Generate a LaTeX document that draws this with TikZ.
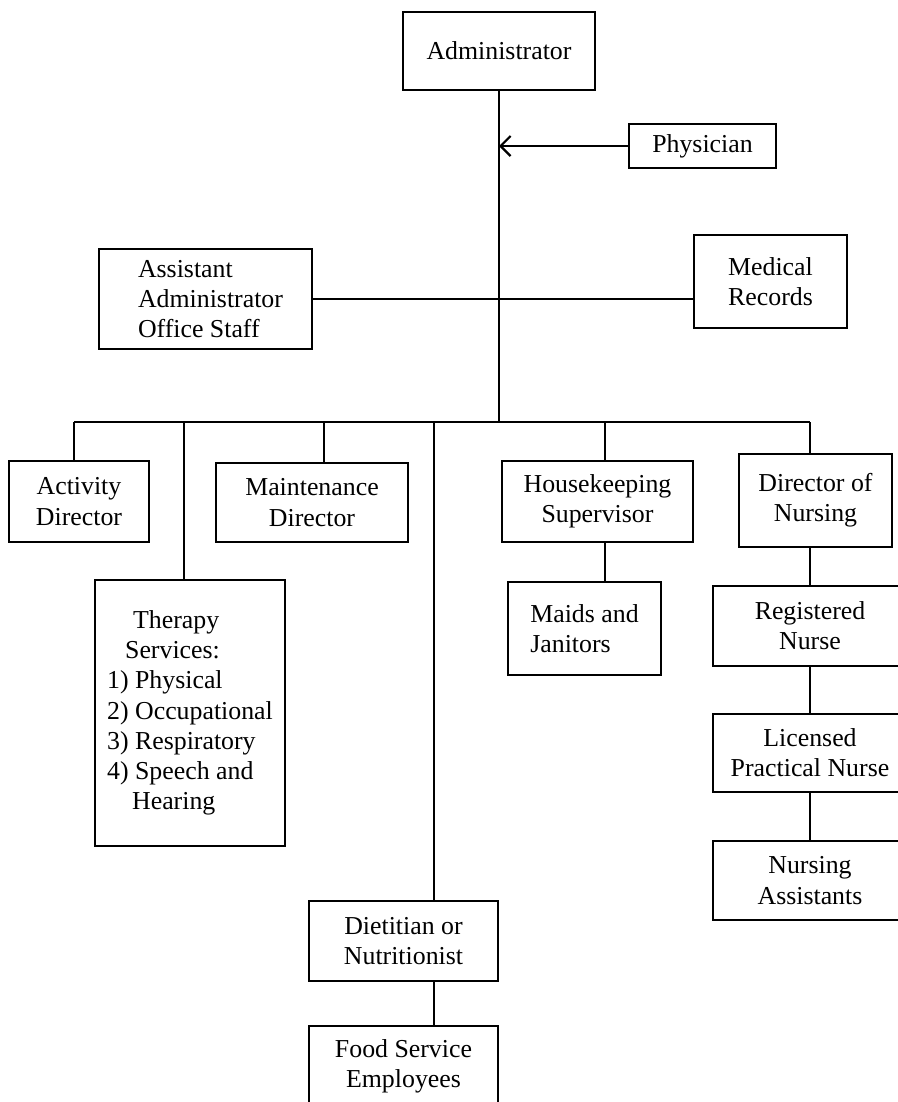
\documentclass[tikz,border=0pt]{standalone}
\usepackage{fontspec}
\setmainfont{Liberation Serif}
\usetikzlibrary{arrows.meta}

\begin{document}
\begin{tikzpicture}[
    unit/.style={draw, line width=1.5pt, align=center, inner sep=2pt},
    link/.style={line width=1.3pt},
    font=\fontsize{14.7}{17.2}\selectfont]
        \useasboundingbox (0,0) rectangle (17.96,-22.04);

        % Top of the chart
        \node[unit, minimum width=3.84cm, minimum height=1.56cm] (admin) at (9.98,-1.02) {Administrator};
        \node[unit, minimum width=2.94cm, minimum height=0.88cm] (phys) at (14.05,-2.92) {Physician};
        \node[unit, align=left, minimum width=4.26cm, minimum height=2.0cm] (asst) at (4.11,-5.98) {\hspace*{0.2cm}Assistant\\\hspace*{0.2cm}Administrator\\\hspace*{0.2cm}Office Staff};
        \node[unit, minimum width=3.06cm, minimum height=1.86cm] (med) at (15.41,-5.63) {Medical\\Records};

        % Drop points on the bus
        \coordinate (dAct) at (1.48,-8.44);
        \coordinate (dTher) at (3.68,-8.44);
        \coordinate (dMaint) at (6.48,-8.44);
        \coordinate (dDiet) at (8.68,-8.44);
        \coordinate (dHouse) at (12.1,-8.44);
        \coordinate (dNurse) at (16.2,-8.44);

        % Departments
        \node[unit, minimum width=2.8cm, minimum height=1.62cm] (act) at (1.58,-10.03) {Activity\\Director};
        \node[unit, align=left, minimum width=3.8cm, minimum height=5.32cm] (ther) at (3.8,-14.26) {\hspace*{0.52cm}Therapy\\\hspace*{0.36cm}Services:\\1) Physical\\2) Occupational\\3) Respiratory\\4) Speech and\\\hspace*{0.5cm}Hearing};
        \node[unit, minimum width=3.84cm, minimum height=1.58cm] (maint) at (6.24,-10.05) {Maintenance\\Director};
        \node[unit, minimum width=3.78cm, minimum height=1.6cm] (diet) at (8.07,-18.82) {Dietitian or\\Nutritionist};
        \node[unit, minimum width=3.78cm, minimum height=1.6cm] (food) at (8.07,-21.32) {Food Service\\Employees};
        \node[unit, minimum width=3.82cm, minimum height=1.62cm] (house) at (11.95,-10.03) {Housekeeping\\Supervisor};
        \node[unit, align=left, minimum width=3.06cm, minimum height=1.86cm] (maids) at (11.69,-12.57) {Maids and\\Janitors};

        % Nursing
        \node[unit, minimum width=3.06cm, minimum height=1.86cm] (dnurse) at (16.31,-10.01) {Director of\\Nursing};
        \node[unit, minimum width=3.88cm, minimum height=1.6cm] (rn) at (16.2,-12.52) {Registered\\Nurse};
        \node[unit, minimum width=3.88cm, minimum height=1.56cm] (lpn) at (16.2,-15.06) {Licensed\\Practical Nurse};
        \node[unit, minimum width=3.88cm, minimum height=1.58cm] (na) at (16.2,-17.61) {Nursing\\Assistants};

        % Lines
        \draw[link] (admin.south) -- (admin.south |- dAct);
        \draw[link, -{Straight Barb[length=2mm, width=4mm]}] (phys.west) -- (phys.west -| admin.south);
        \draw[link] (asst.east) -- (asst.east -| med.west);
        \draw[link] (dAct) -- (dNurse);
        \draw[link] (dAct) -- (dAct |- act.north);
        \draw[link] (dTher) -- (dTher |- ther.north);
        \draw[link] (dMaint) -- (dMaint |- maint.north);
        \draw[link] (dDiet) -- (dDiet |- diet.north);
        \draw[link] (dDiet |- diet.south) -- (dDiet |- food.north);
        \draw[link] (dHouse) -- (dHouse |- house.north);
        \draw[link] (dHouse |- house.south) -- (dHouse |- maids.north);
        \draw[link] (dNurse) -- (dNurse |- dnurse.north);
        \draw[link] (dnurse.south -| rn.north) -- (rn.north);
        \draw[link] (rn.south) -- (lpn.north);
        \draw[link] (lpn.south) -- (na.north);
    \end{tikzpicture}
\end{document}
